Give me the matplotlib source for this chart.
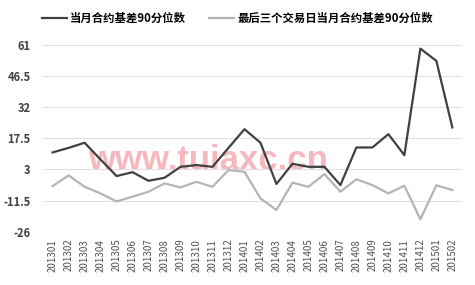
import matplotlib
matplotlib.use("Agg")
import matplotlib.pyplot as plt

plt.rcParams['font.family'] = ['Noto Sans CJK SC', 'DejaVu Sans']

months = ["201301", "201302", "201303", "201304", "201305", "201306", "201307",
          "201308", "201309", "201310", "201311", "201312", "201401", "201402",
          "201403", "201404", "201405", "201406", "201407", "201408", "201409",
          "201410", "201411", "201412", "201501", "201502"]
basis_90 = [10.9, 13.0, 15.4, 7.6, -0.1, 1.7, -2.3, -0.9, 4.2, 5.0, 4.2, 13.0, 21.7,
            15.4, -3.8, 5.6, 4.2, 4.2, -4.3, 13.2, 13.2, 19.4, 9.6, 59.2, 53.5, 22.5]
basis_last3 = [-4.8, 0.2, -5.1, -8.2, -11.9, -9.7, -7.4, -3.5, -5.4, -2.8, -5.1, 2.7, 1.9,
               -10.5, -15.9, -3.2, -5.1, 0.8, -7.4, -1.6, -4.3, -8.2, -4.6, -20.2, -4.4, -6.6]
yticks = [-26, -11.5, 3, 17.5, 32, 46.5, 61]
ytick_labels = ["-26", "-11.5", "3", "17.5", "32", "46.5", "61"]
legend_labels = ["当月合约基差90分位数", "最后三个交易日当月合约基差90分位数"]

fig = plt.figure(figsize=(4.75, 2.85), dpi=100)
ax = fig.add_axes([0.0905, 0.187, 0.882, 0.656])

x = list(range(len(months)))
ax.text(0.394, 0.33, "www.tuiaxc.cn", transform=ax.transAxes, ha='center', va='baseline',
        fontsize=25, fontweight='bold', color='#f4a0a8', alpha=0.75,
        family=['Liberation Sans', 'DejaVu Sans'], zorder=1)
l1, = ax.plot(x, basis_90, color='#404040', lw=1.6, zorder=3)
l2, = ax.plot(x, basis_last3, color='#b4b4b4', lw=1.6, zorder=2)

ax.set_ylim(-26, 61)
ax.set_xlim(-0.6, 25.6)
ax.set_yticks(yticks)
ax.set_yticklabels(ytick_labels, fontsize=8, fontweight='bold', color='#404040')
ax.set_xticks(x)
ax.set_xticklabels(months, rotation=90, fontsize=7, color='#505050')
ax.tick_params(axis='both', length=0)
ax.tick_params(axis='y', pad=9)
ax.tick_params(axis='x', pad=5)
ax.grid(axis='y', color='#e0e0e0', lw=0.8)
for s in ax.spines.values():
    s.set_visible(False)

fig.legend(handles=[l1, l2], labels=legend_labels, loc='center', bbox_to_anchor=(0.5, 0.935),
           ncol=2, frameon=False, handlelength=2.2, handletextpad=0.3,
           columnspacing=2.0, prop={'weight': 'bold', 'size': 8.2})

fig.savefig("out.png", dpi=100)
